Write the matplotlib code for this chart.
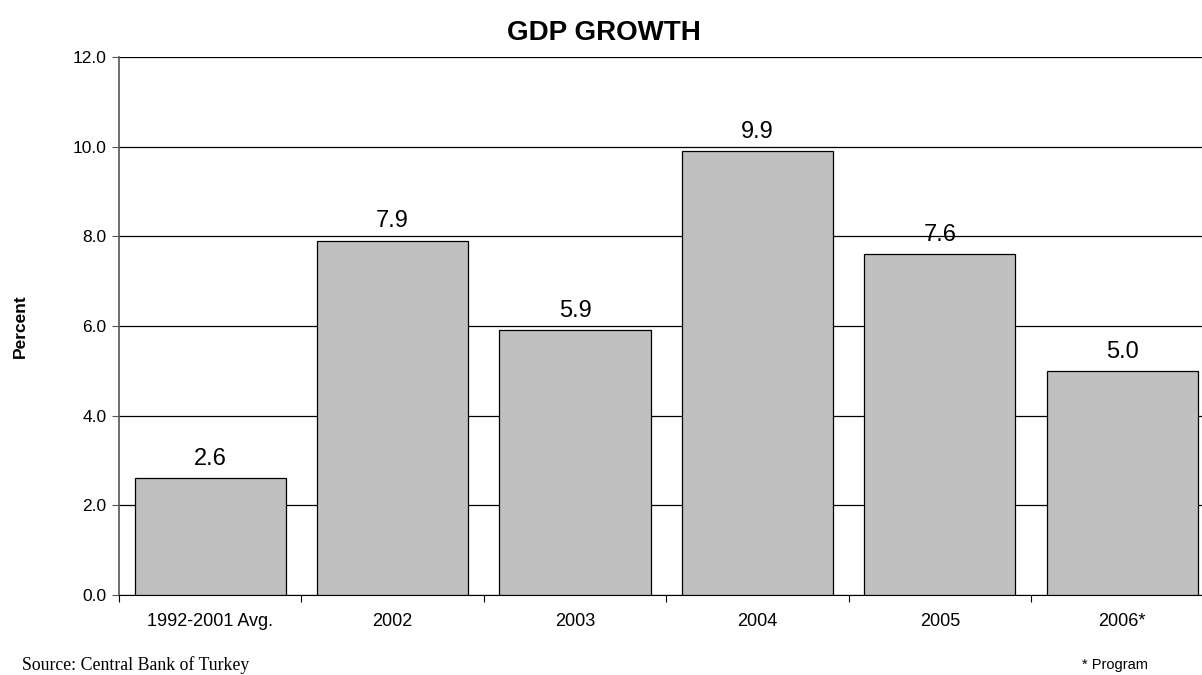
import matplotlib.pyplot as plt

categories = ['1992-2001 Avg.', '2002', '2003', '2004', '2005', '2006*']
growth = [2.6, 7.9, 5.9, 9.9, 7.6, 5.0]
yticks = [0.0, 2.0, 4.0, 6.0, 8.0, 10.0, 12.0]

W, H = 1202, 675
fig = plt.figure(figsize=(W / 100, H / 100), dpi=100)
ax = fig.add_axes([119 / W, (H - 595) / H, (W - 119) / W, (595 - 57) / H])

x = list(range(len(categories)))
ax.bar(x, growth, width=0.83, color='#c0c0c0', edgecolor='black', linewidth=0.9, zorder=3)

# value labels above the bars
for xi, v in zip(x, growth):
    ax.annotate('%.1f' % v, (xi, v), xytext=(0, 6), textcoords='offset points',
                ha='center', va='bottom', fontsize=17, family='Liberation Sans')

ax.set_ylim(0, 12)
ax.set_xlim(-0.5, -0.5 + (W - 119) / 182.4)
ax.set_yticks(yticks)
ax.set_yticklabels(['%.1f' % t for t in yticks], fontsize=12.5, family='Liberation Sans')
ax.yaxis.grid(True, color='black', linewidth=0.9, zorder=0)
ax.set_axisbelow(True)

ax.set_xticks([i + 0.5 for i in x[:-1]] + [-0.5])
ax.set_xticklabels([])
ax.set_xticks(x, minor=True)
ax.set_xticklabels(categories, minor=True, fontsize=13, family='Liberation Sans')
ax.tick_params(axis='x', which='minor', length=0, pad=13)
ax.tick_params(axis='x', which='major', length=5, direction='out', color='black')
ax.tick_params(axis='y', length=5, direction='out', color='#555555', pad=4)

for s in ['top', 'right']:
    ax.spines[s].set_visible(False)
ax.spines['left'].set_color('#555555')
ax.spines['left'].set_linewidth(1.2)
ax.spines['bottom'].set_color('black')

ax.set_ylabel('Percent', fontsize=12.5, fontweight='bold', family='Liberation Sans', labelpad=32)

fig.text(604 / W, 1 - 33 / H, 'GDP GROWTH', ha='center', va='center',
         fontsize=20, fontweight='bold', family='Liberation Sans')
fig.text(22 / W, 1 - 665 / H, 'Source: Central Bank of Turkey', ha='left', va='center',
         fontsize=12.8, family='Liberation Serif')
fig.text(1115 / W, 1 - 665 / H, '* Program', ha='center', va='center',
         fontsize=10.5, family='Liberation Sans')

fig.savefig('out.png', dpi=100)
